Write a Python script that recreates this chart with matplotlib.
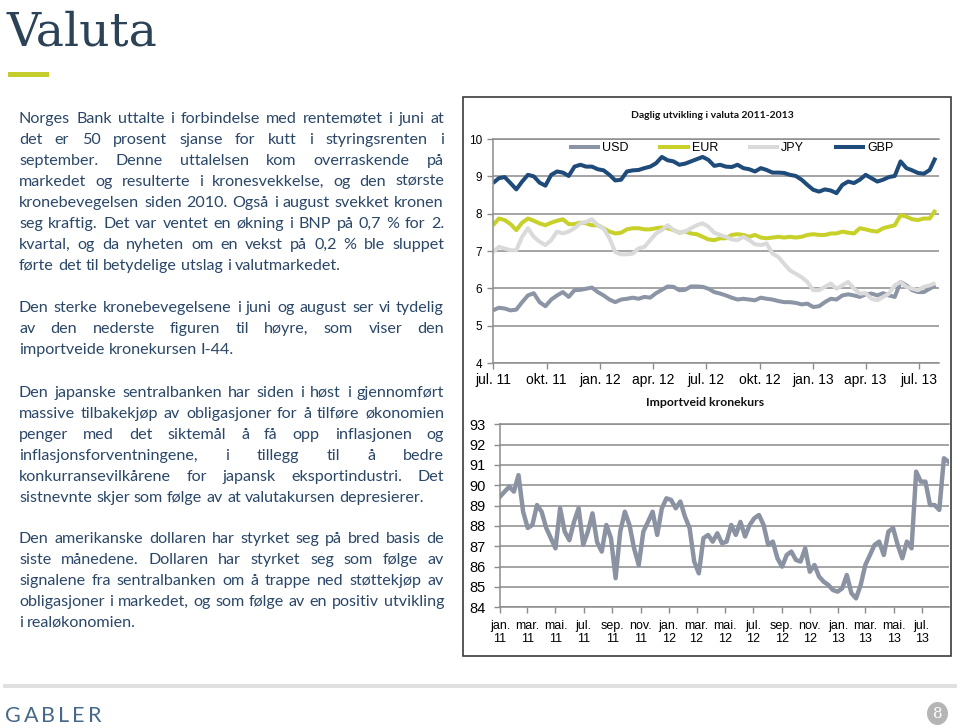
import matplotlib
matplotlib.use('Agg')
import matplotlib.pyplot as plt
import matplotlib.patches as mpatches
from matplotlib.font_manager import FontProperties
import pandas as pd

# ---------------- data ----------------
currencies = ['USD', 'EUR', 'JPY', 'GBP']
usd = [5.41, 5.48, 5.46, 5.41, 5.43, 5.63, 5.81, 5.87, 5.63, 5.52,
       5.70, 5.81, 5.90, 5.77, 5.95, 5.96, 5.99, 6.02, 5.90, 5.81,
       5.70, 5.63, 5.70, 5.72, 5.75, 5.72, 5.77, 5.75, 5.87, 5.96,
       6.05, 6.04, 5.95, 5.96, 6.05, 6.05, 6.04, 5.99, 5.90, 5.86,
       5.81, 5.75, 5.70, 5.72, 5.70, 5.68, 5.75, 5.72, 5.70, 5.66,
       5.63, 5.63, 5.61, 5.57, 5.59, 5.50, 5.52, 5.63, 5.72, 5.70,
       5.81, 5.84, 5.81, 5.77, 5.84, 5.86, 5.81, 5.87, 5.81, 5.77,
       6.17, 6.08, 5.95, 5.90, 5.90, 5.99, 6.08]
eur = [7.69, 7.87, 7.83, 7.72, 7.56, 7.76, 7.87, 7.81, 7.74, 7.69,
       7.76, 7.81, 7.85, 7.72, 7.72, 7.76, 7.74, 7.69, 7.69, 7.61,
       7.52, 7.47, 7.49, 7.58, 7.61, 7.61, 7.58, 7.58, 7.61, 7.63,
       7.61, 7.56, 7.49, 7.52, 7.47, 7.45, 7.38, 7.31, 7.29, 7.34,
       7.34, 7.43, 7.45, 7.43, 7.38, 7.43, 7.36, 7.34, 7.36, 7.38,
       7.36, 7.38, 7.36, 7.38, 7.43, 7.45, 7.43, 7.43, 7.47, 7.47,
       7.52, 7.49, 7.47, 7.61, 7.58, 7.54, 7.52, 7.61, 7.65, 7.69,
       7.96, 7.92, 7.85, 7.83, 7.87, 7.87, 8.10]
jpy = [6.97, 7.11, 7.07, 7.02, 7.02, 7.38, 7.61, 7.38, 7.25, 7.16,
       7.29, 7.52, 7.47, 7.52, 7.61, 7.74, 7.78, 7.85, 7.69, 7.61,
       7.34, 6.97, 6.91, 6.91, 6.93, 7.07, 7.11, 7.29, 7.47, 7.56,
       7.69, 7.56, 7.49, 7.52, 7.61, 7.69, 7.74, 7.65, 7.49, 7.43,
       7.38, 7.31, 7.29, 7.38, 7.29, 7.18, 7.16, 7.20, 6.93, 6.84,
       6.66, 6.48, 6.39, 6.30, 6.17, 5.95, 5.95, 6.04, 6.13, 5.99,
       6.08, 6.17, 5.99, 5.86, 5.87, 5.72, 5.68, 5.77, 5.86, 6.08,
       6.17, 6.04, 5.99, 5.95, 6.04, 6.08, 6.14]
gbp = [8.82, 8.95, 8.98, 8.82, 8.65, 8.86, 9.04, 9.00, 8.83, 8.75,
       9.04, 9.13, 9.10, 9.01, 9.26, 9.31, 9.26, 9.26, 9.19, 9.16,
       9.04, 8.89, 8.91, 9.13, 9.16, 9.17, 9.22, 9.26, 9.35, 9.52,
       9.43, 9.40, 9.31, 9.34, 9.40, 9.46, 9.52, 9.44, 9.28, 9.31,
       9.26, 9.25, 9.31, 9.22, 9.19, 9.13, 9.22, 9.17, 9.10, 9.10,
       9.09, 9.04, 9.01, 8.91, 8.77, 8.64, 8.59, 8.65, 8.62, 8.55,
       8.77, 8.86, 8.82, 8.91, 9.04, 8.95, 8.86, 8.91, 8.98, 9.01,
       9.40, 9.22, 9.16, 9.09, 9.07, 9.17, 9.50]
top_start = '2011-07-01'
top_end = '2013-08-05'
top_xlabels = ['jul. 11', 'okt. 11', 'jan. 12', 'apr. 12', 'jul. 12',
               'okt. 12', 'jan. 13', 'apr. 13', 'jul. 13']
top_yticks = [4, 5, 6, 7, 8, 9, 10]

i44 = [89.44, 89.69, 89.93, 89.69, 90.50, 88.70, 87.90, 88.05, 89.03, 88.70,
       87.90, 87.40, 86.90, 88.87, 87.72, 87.30, 88.20, 88.87, 87.07, 87.72,
       88.62, 87.20, 86.74, 88.05, 87.40, 85.43, 87.72, 88.70, 88.05, 86.90,
       86.08, 87.72, 88.20, 88.70, 87.56, 88.87, 89.36, 89.28, 88.87, 89.20,
       88.46, 87.90, 86.25, 85.67, 87.40, 87.56, 87.23, 87.64, 87.15, 87.23,
       88.05, 87.56, 88.20, 87.48, 88.05, 88.38, 88.54, 88.05, 87.07, 87.23,
       86.41, 86.00, 86.57, 86.74, 86.33, 86.25, 86.90, 85.75, 86.08, 85.51,
       85.26, 85.10, 84.85, 84.77, 84.93, 85.59, 84.69, 84.44, 85.10, 86.08,
       86.57, 87.07, 87.23, 86.57, 87.72, 87.90, 87.07, 86.41, 87.23, 86.90,
       90.67, 90.18, 90.18, 89.03, 89.03, 88.79, 91.33, 91.16]
bot_start = '2011-01-01'
bot_end = '2013-08-29'
bot_xlabels = ['jan.\n11', 'mar.\n11', 'mai.\n11', 'jul.\n11', 'sep.\n11', 'nov.\n11',
               'jan.\n12', 'mar.\n12', 'mai.\n12', 'jul.\n12', 'sep.\n12', 'nov.\n12',
               'jan.\n13', 'mar.\n13', 'mai.\n13', 'jul.\n13']
bot_yticks = [84, 85, 86, 87, 88, 89, 90, 91, 92, 93]

paragraphs = [
    ["Norges Bank uttalte i forbindelse med rentemøtet i juni at",
     "det er 50 prosent sjanse for kutt i styringsrenten i",
     "september. Denne uttalelsen kom overraskende på",
     "markedet og resulterte i kronesvekkelse, og den største",
     "kronebevegelsen siden 2010. Også i august svekket kronen",
     "seg kraftig. Det var ventet en økning i BNP på 0,7 % for 2.",
     "kvartal, og da nyheten om en vekst på 0,2 % ble sluppet",
     "førte det til betydelige utslag i valutmarkedet."],
    ["Den sterke kronebevegelsene i juni og august  ser vi tydelig",
     "av den nederste figuren til høyre, som viser den",
     "importveide kronekursen I-44."],
    ["Den japanske sentralbanken har siden i høst i gjennomført",
     "massive tilbakekjøp av obligasjoner for å tilføre økonomien",
     "penger med det siktemål å få opp inflasjonen og",
     "inflasjonsforventningene, i tillegg til å bedre",
     "konkurransevilkårene for japansk eksportindustri. Det",
     "sistnevnte skjer som følge av at valutakursen depresierer."],
    ["Den amerikanske dollaren har styrket seg på bred basis de",
     "siste månedene. Dollaren har styrket seg som følge av",
     "signalene fra sentralbanken om å trappe ned støttekjøp av",
     "obligasjoner i markedet, og som følge av en positiv utvikling",
     "i realøkonomien."],
]

# ---------------- figure ----------------
W, H = 960, 728
fig = plt.figure(figsize=(W / 100, H / 100), dpi=100)
fig.patch.set_facecolor('white')


def fx(px):
    return px / W


def fy(py):
    return 1 - py / H


renderer = fig.canvas.get_renderer()


def measure(s, fp):
    t = fig.text(0, 0, s, fontproperties=fp)
    w = t.get_window_extent(renderer=renderer).width
    t.remove()
    return w


TEXT_COL = '#2a4768'
GRID = '#8c8c8c'
ARIAL = 'Liberation Sans'

# title
fig.text(fx(7), fy(45), 'Valuta', family='DejaVu Serif', fontsize=34,
         color='#2b4257', va='baseline', ha='left')
fig.patches.append(mpatches.Rectangle((fx(8), fy(77)), fx(49) - fx(8), fy(72) - fy(77),
                                      transform=fig.transFigure, color='#c5cc2e', lw=0))

# body text, justified
body_fp = FontProperties(family='Lato', size=12)
ref_w = measure(paragraphs[2][-1], body_fp)
body_fp = FontProperties(family='Lato', size=12 * 404 / ref_w)
space_w = measure('a a', body_fp) - measure('aa', body_fp)
LEFT, RIGHT = 19, 444
starts = [118, 307, 392, 538]
LS = 20.95
for para, y0 in zip(paragraphs, starts):
    for k, line in enumerate(para):
        yb = y0 + k * LS + 5
        words = line.split()
        widths = [measure(w_, body_fp) for w_ in words]
        last = (k == len(para) - 1)
        if last or len(words) < 2:
            gap = space_w
        else:
            gap = (RIGHT - LEFT - sum(widths)) / (len(words) - 1)
        x = LEFT
        for w_, wd in zip(words, widths):
            fig.text(fx(x), fy(yb), w_, fontproperties=body_fp, color=TEXT_COL,
                     va='baseline', ha='left')
            x += wd + gap

# chart frame
fig.patches.append(mpatches.Rectangle((fx(463), fy(656)), fx(951) - fx(463), fy(97) - fy(656),
                                      transform=fig.transFigure, fill=False,
                                      ec='#3c3c3c', lw=1.2))


def fit_title(s, cx, cy, target):
    fp = FontProperties(family='Lato', weight='bold', size=8)
    w = measure(s, fp)
    fp = FontProperties(family='Lato', weight='bold', size=8 * target / w)
    fig.text(fx(cx), fy(cy), s, fontproperties=fp, ha='center', va='center', color='#111111')


fit_title('Daglig utvikling i valuta 2011-2013', 712, 115, 164)
fit_title('Importveid kronekurs', 705, 402, 118)

# ---------- top chart ----------
ax1 = fig.add_axes([fx(493), fy(363), fx(939) - fx(493), fy(139) - fy(363)])
top_dates = pd.date_range(top_start, periods=len(gbp), freq='10D')
series = {'USD': usd, 'EUR': eur, 'JPY': jpy, 'GBP': gbp}
colors = {'USD': '#8c95a5', 'EUR': '#c8d12a', 'JPY': '#dadada', 'GBP': '#1f4b7a'}
for c in currencies:
    ax1.plot(top_dates, series[c], color=colors[c], lw=2.9, label=c,
             solid_joinstyle='round', solid_capstyle='butt')
ax1.set_xlim(pd.Timestamp(top_start), pd.Timestamp(top_end))
ax1.set_ylim(4, 10)
ax1.set_yticks(top_yticks)
ax1.set_yticklabels([str(v) for v in top_yticks], family=ARIAL, fontsize=8.5)
qticks = pd.date_range(top_start, '2013-07-01', freq='QS')
ax1.set_xticks(qticks)
ax1.set_xticklabels(top_xlabels, family=ARIAL, fontsize=10)
ax1.grid(axis='y', color=GRID, lw=1.1)
ax1.set_axisbelow(True)
ax1.spines['right'].set_visible(False)
for s in ['left', 'top', 'bottom']:
    ax1.spines[s].set_color(GRID)
    ax1.spines[s].set_linewidth(1.1)
ax1.tick_params(axis='both', direction='out', length=4, color=GRID, width=1)
ax1.tick_params(axis='y', pad=4)
ax1.tick_params(axis='x', pad=3.5)
leg = ax1.legend(ncol=4, loc='center', bbox_to_anchor=(0.534, 0.958), frameon=False,
                 prop=FontProperties(family=ARIAL, size=9), handlelength=2.5,
                 handletextpad=0.15, columnspacing=2.4, borderaxespad=0)

# ---------- bottom chart ----------
ax2 = fig.add_axes([fx(500), fy(607.3), fx(949) - fx(500), fy(424.3) - fy(607.3)])
bot_dates = pd.date_range(bot_start, periods=len(i44), freq='10D')
ax2.plot(bot_dates, i44, color='#8b93a3', lw=3.2, solid_joinstyle='round')
ax2.set_xlim(pd.Timestamp(bot_start), pd.Timestamp(bot_end))
ax2.set_ylim(84, 93)
ax2.set_yticks(bot_yticks)
ax2.set_yticklabels([str(v) for v in bot_yticks], family=ARIAL, fontsize=10.5)
mticks = pd.date_range(bot_start, '2013-07-01', freq='2MS')
ax2.set_xticks(mticks)
ax2.set_xticklabels(bot_xlabels, family=ARIAL, fontsize=9, linespacing=1.1)
ax2.grid(axis='y', color=GRID, lw=1.1)
ax2.set_axisbelow(True)
ax2.spines['right'].set_visible(False)
for s in ['left', 'top', 'bottom']:
    ax2.spines[s].set_color(GRID)
    ax2.spines[s].set_linewidth(1.1)
ax2.tick_params(axis='both', direction='out', length=4, color=GRID, width=1)
ax2.tick_params(axis='y', pad=6)
ax2.tick_params(axis='x', pad=5)

# ---------- footer ----------
fig.patches.append(mpatches.Rectangle((fx(3), fy(688)), fx(957) - fx(3), fy(684) - fy(688),
                                      transform=fig.transFigure, color='#e0e0e0', lw=0))
logo_fp = FontProperties(family='Lato', weight='normal', size=15.5)
x = 5
for ch in 'GABLER':
    fig.text(fx(x), fy(722), ch, fontproperties=logo_fp, color='#46698a',
             va='baseline', ha='left')
    x += measure(ch, logo_fp) + 3.0
fig.patches.append(mpatches.Ellipse((fx(937.5), fy(713.5)), 21 / W, 23 / H,
                                    transform=fig.transFigure, color='#b5b5b5', lw=0))
fig.text(fx(937.5), fy(713.5), '8', family='DejaVu Serif', fontsize=11, color='white',
         ha='center', va='center')

fig.savefig('out.png', dpi=100)
